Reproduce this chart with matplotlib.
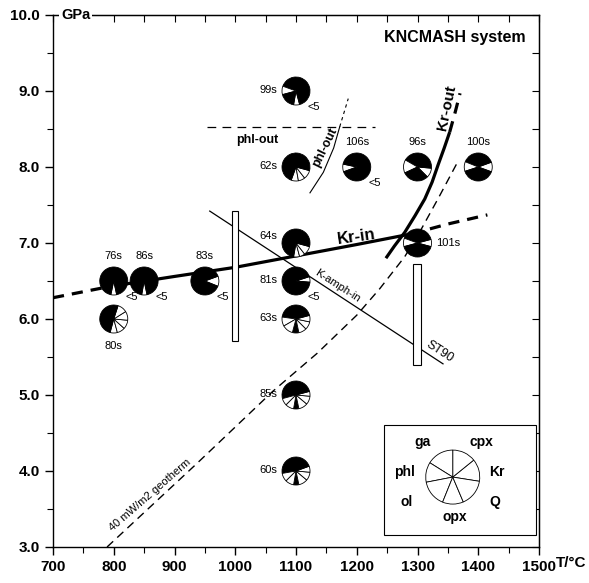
import matplotlib
matplotlib.use("Agg")
import matplotlib.pyplot as plt
from matplotlib.patches import Wedge, Rectangle
from matplotlib.transforms import ScaledTranslation
from matplotlib.ticker import MultipleLocator

plt.rcParams['font.family'] = ['Liberation Sans', 'DejaVu Sans']

# Reaction curves (T in degC, P in GPa)
kr_in_T = [795, 900, 1000, 1100, 1200, 1290]
kr_in_P = [6.43, 6.56, 6.68, 6.83, 6.98, 7.12]
kr_in_lo_T = [700, 795]
kr_in_lo_P = [6.28, 6.43]
kr_in_hi_T = [1290, 1350, 1415]
kr_in_hi_P = [7.12, 7.25, 7.37]

kr_out_T = [1248, 1262, 1279, 1296, 1312, 1324, 1334, 1344, 1353]
kr_out_P = [6.80, 6.96, 7.14, 7.36, 7.58, 7.80, 8.03, 8.25, 8.46]
kr_out_hi_T = [1353, 1362, 1370]
kr_out_hi_P = [8.46, 8.72, 8.97]

geo_T = [789, 937, 1062, 1135, 1200, 1238, 1279, 1304, 1335, 1365]
geo_P = [3.0, 4.1, 5.05, 5.55, 6.05, 6.4, 6.82, 7.15, 7.6, 8.05]

kamph_T = [958, 1342]
kamph_P = [7.42, 5.41]

phl_out_h_T = [953, 1230]
phl_out_h_P = [8.53, 8.53]

phl_out_T = [1123, 1145, 1162, 1172]
phl_out_P = [7.66, 7.93, 8.25, 8.53]
phl_out_hi_T = [1172, 1186]
phl_out_hi_P = [8.53, 8.90]

# experimental brackets (T0, T1, P0, P1)
bars = [(995, 1005, 5.71, 7.42), (1293, 1305, 5.39, 6.72)]

# run products: name, T, P, sector boundaries (deg), fills, label side, "<5" flag
runs = [
    ("76s", 800, 6.5, [-102, -78, 258], "wk", "top", True),
    ("86s", 850, 6.5, [-100, -78, 260], "wk", "top", True),
    ("80s", 800, 6.0, [-105, -75, -42, -5, 32, 72, 255], "wwwwwk", "bottom", False),
    ("83s", 950, 6.5, [-22, 20, 338], "wk", "top", True),
    ("99s", 1100, 9.0, [-100, -75, 160, 195, 260], "wkwk", "left", True),
    ("62s", 1100, 8.0, [-110, -80, -52, -15, 250], "wwwk", "left", False),
    ("106s", 1200, 8.0, [168, 200, 528], "wk", "top", True),
    ("96s", 1300, 8.0, [-45, -5, 150, 205, 315], "wkwk", "top", False),
    ("100s", 1400, 8.0, [-20, 20, 158, 198, 340], "wkwk", "top", False),
    ("64s", 1100, 7.0, [-100, -75, -52, -15, 260], "wwwk", "upleft", False),
    ("101s", 1300, 7.0, [-15, 15, 160, 195, 345], "wkwk", "right", False),
    ("81s", 1100, 6.5, [-5, 18, 355], "wk", "left", True),
    ("63s", 1100, 6.0, [-105, -78, -45, -12, 15, 172, 210, 255], "kwwwkww", "left", False),
    ("85s", 1100, 5.0, [-100, -78, -40, -5, 15, 195, 225, 260], "kwwwkww", "left", False),
    ("60s", 1100, 4.0, [-100, -78, -40, -5, 20, 190, 225, 260], "kwwwkww", "left", False),
]

legend_bounds = [-9, 39, 90, 148, 191, 248, 293, 351]
legend_names = ["Kr", "cpx", "ga", "phl", "ol", "opx", "Q"]
legend_offsets = {"ga": (-30, 35), "cpx": (29, 35), "phl": (-48, 5), "Kr": (44, 5),
                  "ol": (-46, -25), "Q": (42, -25), "opx": (2, -40)}

PX = 0.72  # points per pixel at dpi 100

fig = plt.figure(figsize=(5.89, 5.83), dpi=100)
ax = fig.add_axes([53 / 589, 1 - 547 / 583, 486 / 589, 532 / 583])
ax.set_xlim(700, 1500)
ax.set_ylim(3, 10)

# curves
ax.plot(kr_in_T, kr_in_P, color='black', lw=2.3, solid_capstyle='butt')
ax.plot(kr_in_lo_T, kr_in_lo_P, color='black', lw=2.3, dashes=(3.5, 2.5))
ax.plot(kr_in_hi_T, kr_in_hi_P, color='black', lw=2.3, dashes=(3.5, 2.5))
ax.plot(kr_out_T, kr_out_P, color='black', lw=2.3, solid_capstyle='butt')
ax.plot(kr_out_hi_T, kr_out_hi_P, color='black', lw=2.3, dashes=(3.5, 2.5))
ax.plot(geo_T, geo_P, color='black', lw=1.0, dashes=(6, 4))
ax.plot(kamph_T, kamph_P, color='black', lw=0.9)
ax.plot(phl_out_h_T, phl_out_h_P, color='black', lw=0.9, dashes=(7, 5))
ax.plot(phl_out_T, phl_out_P, color='black', lw=0.8)
ax.plot(phl_out_hi_T, phl_out_hi_P, color='black', lw=0.8, dashes=(3, 3))

for t0, t1, p0, p1 in bars:
    ax.add_patch(Rectangle((t0, p0), t1 - t0, p1 - p0, facecolor='white',
                           edgecolor='black', lw=0.8, zorder=3))


def draw_pie(T, P, bounds, fills, r=0.14):
    trans = fig.dpi_scale_trans + ScaledTranslation(T, P, ax.transData)
    for a0, a1, f in zip(bounds[:-1], bounds[1:], fills):
        fc = 'black' if f == 'k' else 'white'
        ax.add_patch(Wedge((0, 0), r, a0, a1, facecolor=fc, edgecolor='black',
                           lw=0.6, transform=trans, zorder=5))


label_pos = {"top": ((0, 25), 'center'), "bottom": ((0, -27), 'center'),
             "left": ((-19, 1), 'right'), "upleft": ((-19, 7), 'right'),
             "right": ((19, 0), 'left')}

for name, T, P, bounds, fills, side, small in runs:
    draw_pie(T, P, bounds, fills)
    (dx, dy), ha = label_pos[side]
    ax.annotate(name, (T, P), xytext=(dx * PX, dy * PX), textcoords='offset points',
                ha=ha, va='center', fontsize=8, zorder=6)
    if small:
        ax.annotate("<5", (T, P), xytext=(18 * PX, -16 * PX), textcoords='offset points',
                    ha='center', va='center', fontsize=8, zorder=6)

# legend box
ax.add_patch(Rectangle((1245, 3.16), 250, 1.44, facecolor='white', edgecolor='black',
                       lw=0.8, zorder=4))
lg_T, lg_P = 1358, 3.92
draw_pie(lg_T, lg_P, legend_bounds + [legend_bounds[0] + 360], "w" * 7, r=0.27)
for nm in legend_names:
    dx, dy = legend_offsets[nm]
    ax.annotate(nm, (lg_T, lg_P), xytext=(dx * PX, dy * PX), textcoords='offset points',
                ha='center', va='center', fontsize=10, fontweight='bold', zorder=6)

# curve labels
ax.text(1200, 7.08, "Kr-in", fontsize=12, fontweight='bold', rotation=8,
        ha='center', va='center')
ax.text(1349, 8.78, "Kr-out", fontsize=11, fontweight='bold', rotation=78,
        ha='center', va='center')
ax.text(1148, 8.26, "phl-out", fontsize=9, fontweight='bold', rotation=64,
        ha='center', va='center')
ax.text(1036, 8.36, "phl-out", fontsize=9, fontweight='bold', ha='center', va='center')
ax.text(1169, 6.43, "K-amph-in", fontsize=8, rotation=-33, ha='center', va='center')
ax.text(1337, 5.57, "ST90", fontsize=9, rotation=-33, ha='center', va='center')
ax.text(860, 3.68, "40 mW/m2 geotherm", fontsize=8, rotation=41, ha='center', va='center')
ax.text(1362, 9.7, "KNCMASH system", fontsize=11.5, fontweight='bold',
        ha='center', va='center')
ax.text(713, 10.0, "GPa", fontsize=10.5, fontweight='bold', ha='left', va='center',
        bbox=dict(facecolor='white', edgecolor='none', pad=1), clip_on=False, zorder=10)

# axes
ax.set_xticks(range(700, 1600, 100))
ax.set_xticklabels([str(v) for v in range(700, 1600, 100)])
ax.set_yticks([3, 4, 5, 6, 7, 8, 9, 10])
ax.set_yticklabels(["3.0", "4.0", "5.0", "6.0", "7.0", "8.0", "9.0", "10.0"])
ax.xaxis.set_minor_locator(MultipleLocator(50))
ax.yaxis.set_minor_locator(MultipleLocator(0.5))
ax.tick_params(which='major', direction='out', length=6, width=1,
               labelsize=11, top=False, right=False)
ax.tick_params(which='minor', direction='out', length=4, width=0.8, top=False, right=False)
for lab in ax.get_xticklabels() + ax.get_yticklabels():
    lab.set_fontweight('bold')
ax.annotate("T/°C", (1500, 3.0), xytext=(17 * PX, -16 * PX), textcoords='offset points',
            ha='left', va='center', fontsize=11, fontweight='bold', annotation_clip=False)

top = ax.secondary_xaxis('top')
top.set_xticks(range(700, 1550, 50))
top.tick_params(direction='in', length=5, width=0.8, labeltop=False)
right = ax.secondary_yaxis('right')
right.set_yticks([3 + 0.5 * i for i in range(15)])
right.tick_params(direction='in', length=5, width=0.8, labelright=False)

for sp in ax.spines.values():
    sp.set_linewidth(1.0)

fig.savefig("out.png", dpi=100)
